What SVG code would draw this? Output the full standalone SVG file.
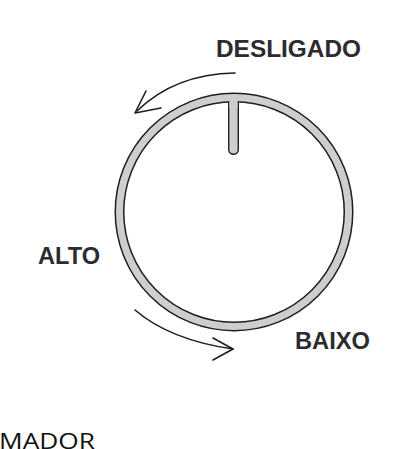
<svg xmlns="http://www.w3.org/2000/svg" width="407" height="449" viewBox="0 0 407 449">
<style>
.lbl{font-family:"Liberation Sans",Arial,sans-serif;font-weight:bold;font-size:23px;fill:#2b2b30}
.arr{fill:none;stroke:#1e1e1e;stroke-width:1.6;stroke-linecap:round;stroke-linejoin:round}
</style>
<rect width="407" height="449" fill="#ffffff"/>
<g id="knob">
<circle cx="234" cy="212" r="114.5" fill="none" stroke="#1e1e1e" stroke-width="10"/>
<circle cx="234" cy="212" r="114.5" fill="none" stroke="#cfcdcd" stroke-width="7"/>
<path d="M228.7,102 V149.5 a4.8,4.8 0 0 0 9.6,0 V102" fill="#cfcdcd" stroke="#1e1e1e" stroke-width="1.4"/>
<rect x="229.5" y="100" width="8" height="8" fill="#cfcdcd"/>
</g>
<g id="connectors">
<path class="arr" d="M235,73 Q175,74 137,111"/>
<path class="arr" d="M146,91 L135,113 L161,108"/>
<path class="arr" d="M135,310 Q170,340 233,349"/>
<path class="arr" d="M213,338 L233,349 L213,360"/>
</g>
<g id="label-desligado"><text class="lbl" x="216" y="56.5" textLength="145" lengthAdjust="spacingAndGlyphs">DESLIGADO</text></g>
<g id="label-alto"><text class="lbl" x="38" y="263.5" textLength="62" lengthAdjust="spacingAndGlyphs">ALTO</text></g>
<g id="label-baixo"><text class="lbl" x="295" y="348.5" textLength="75" lengthAdjust="spacingAndGlyphs">BAIXO</text></g>
<g id="label-mador"><text x="-1" y="448.5" font-family="'Open Sans',sans-serif" font-size="22" textLength="96" lengthAdjust="spacingAndGlyphs" fill="#111">MADOR</text></g>
</svg>
